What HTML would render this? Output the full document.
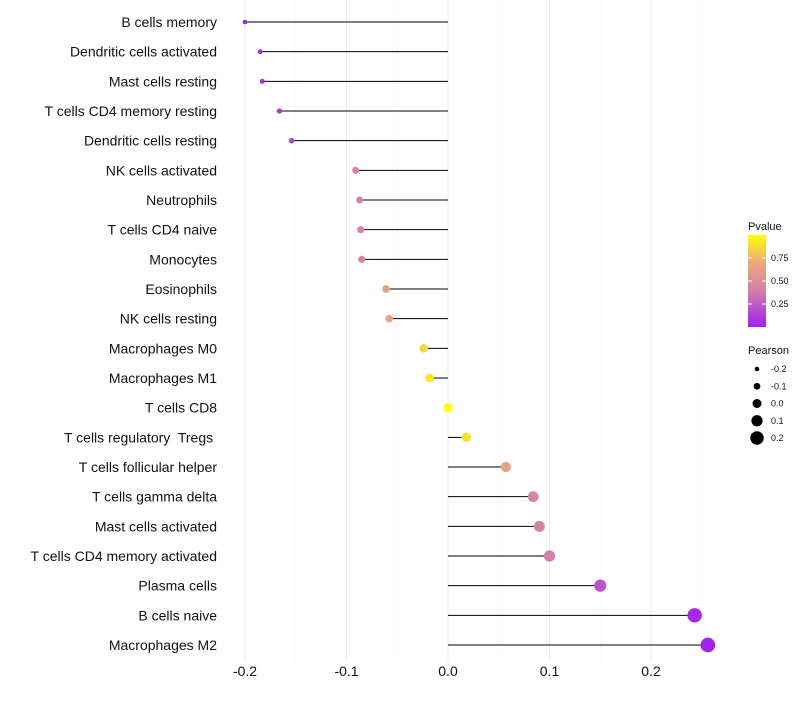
<!DOCTYPE html>
<html><head><meta charset="utf-8"><style>
body{margin:0;background:#fff;font-family:"Liberation Sans",sans-serif}
</style></head><body>
<svg id="chart" width="800" height="700" xmlns="http://www.w3.org/2000/svg"></svg>
<script>
const categories=["B cells memory","Dendritic cells activated","Mast cells resting","T cells CD4 memory resting","Dendritic cells resting","NK cells activated","Neutrophils","T cells CD4 naive","Monocytes","Eosinophils","NK cells resting","Macrophages M0","Macrophages M1","T cells CD8","T cells regulatory  Tregs ","T cells follicular helper","T cells gamma delta","Mast cells activated","T cells CD4 memory activated","Plasma cells","B cells naive","Macrophages M2"];
const pearson=[-0.200,-0.185,-0.183,-0.166,-0.154,-0.091,-0.087,-0.086,-0.085,-0.061,-0.058,-0.024,-0.018,0.000,0.018,0.057,0.084,0.090,0.100,0.150,0.243,0.256];
const pvalues=[0.01,0.05,0.05,0.10,0.15,0.40,0.40,0.41,0.42,0.65,0.65,0.85,0.92,1.0,0.90,0.65,0.45,0.42,0.40,0.22,0.03,0.01];
const xTicks=[-0.2,-0.1,0.0,0.1,0.2];
const xTickLabels=["-0.2","-0.1","0.0","0.1","0.2"];
const pTicks=[0.25,0.50,0.75];
const sizeLegend=[-0.2,-0.1,0.0,0.1,0.2];

const svg=document.getElementById('chart');
const NS='http://www.w3.org/2000/svg';
function mk(t,a,p){const e=document.createElementNS(NS,t);for(const k in a)e.setAttribute(k,a[k]);(p||svg).appendChild(e);return e;}
const x=v=>448+v*1015;
const y=i=>22+i*(623/21);
const rad=v=>4.5+v*11;
function lerp(a,b,t){return a.map((c,i)=>Math.round(c+(b[i]-c)*t));}
const stops=[[0,[160,32,240]],[0.4,[212,128,170]],[0.7,[235,170,125]],[1,[255,255,0]]];
function col(p){for(let i=0;i<stops.length-1;i++){if(p<=stops[i+1][0]){const t=(p-stops[i][0])/(stops[i+1][0]-stops[i][0]);return 'rgb('+lerp(stops[i][1],stops[i+1][1],t).join(',')+')';}}return 'rgb(255,255,0)';}

// grid
for(let k=-4;k<=5;k++){const v=k*0.05;const major=k%2===0;
const g=mk('line',{x1:x(v),x2:x(v),y1:0,y2:662,stroke:major?'#ebebeb':'#f5f5f5','stroke-width':major?1:0.6});

}
// x ticks
xTicks.forEach((v,i)=>{const t=mk('text',{x:x(v),y:676,'text-anchor':'middle','font-size':14,fill:'#111'});t.textContent=xTickLabels[i];

});
// rows
categories.forEach((c,i)=>{
const t=mk('text',{x:217,y:y(i)+5,'text-anchor':'end','font-size':14,fill:'#111','xml:space':'preserve'});t.style.whiteSpace='pre';t.textContent=c;


const l=mk('line',{x1:x(0),x2:x(pearson[i]),y1:y(i),y2:y(i),stroke:'#000','stroke-width':1});


const d=mk('circle',{cx:x(pearson[i]),cy:y(i),r:rad(pearson[i]),fill:col(pvalues[i])});


});
// colorbar legend
const defs=mk('defs',{});const gr=mk('linearGradient',{id:'pg',x1:0,y1:1,x2:0,y2:0},defs);
stops.forEach(s=>mk('stop',{offset:s[0],'stop-color':'rgb('+s[1].join(',')+')'},gr));
const lt=mk('text',{x:748,y:230,'font-size':11,fill:'#111'});lt.textContent='Pvalue';


const cb=mk('rect',{x:748,y:235,width:18,height:92,fill:'url(#pg)'});


pTicks.forEach(p=>{const yy=327-p*92;
mk('line',{x1:748,x2:752,y1:yy,y2:yy,stroke:'#fff'});mk('line',{x1:762,x2:766,y1:yy,y2:yy,stroke:'#fff'});
const t=mk('text',{x:771,y:yy+3,'font-size':9,fill:'#111'});t.textContent=p.toFixed(2);

});
// size legend
const st=mk('text',{x:748,y:354,'font-size':11,fill:'#111'});st.textContent='Pearson';


sizeLegend.forEach((v,i)=>{const yy=369+i*17.25;
const c=mk('circle',{cx:757,cy:yy,r:rad(v),fill:'#000'});


const t=mk('text',{x:771,y:yy+3,'font-size':9,fill:'#111'});t.textContent=v.toFixed(1);

});
</script>
</body></html>
